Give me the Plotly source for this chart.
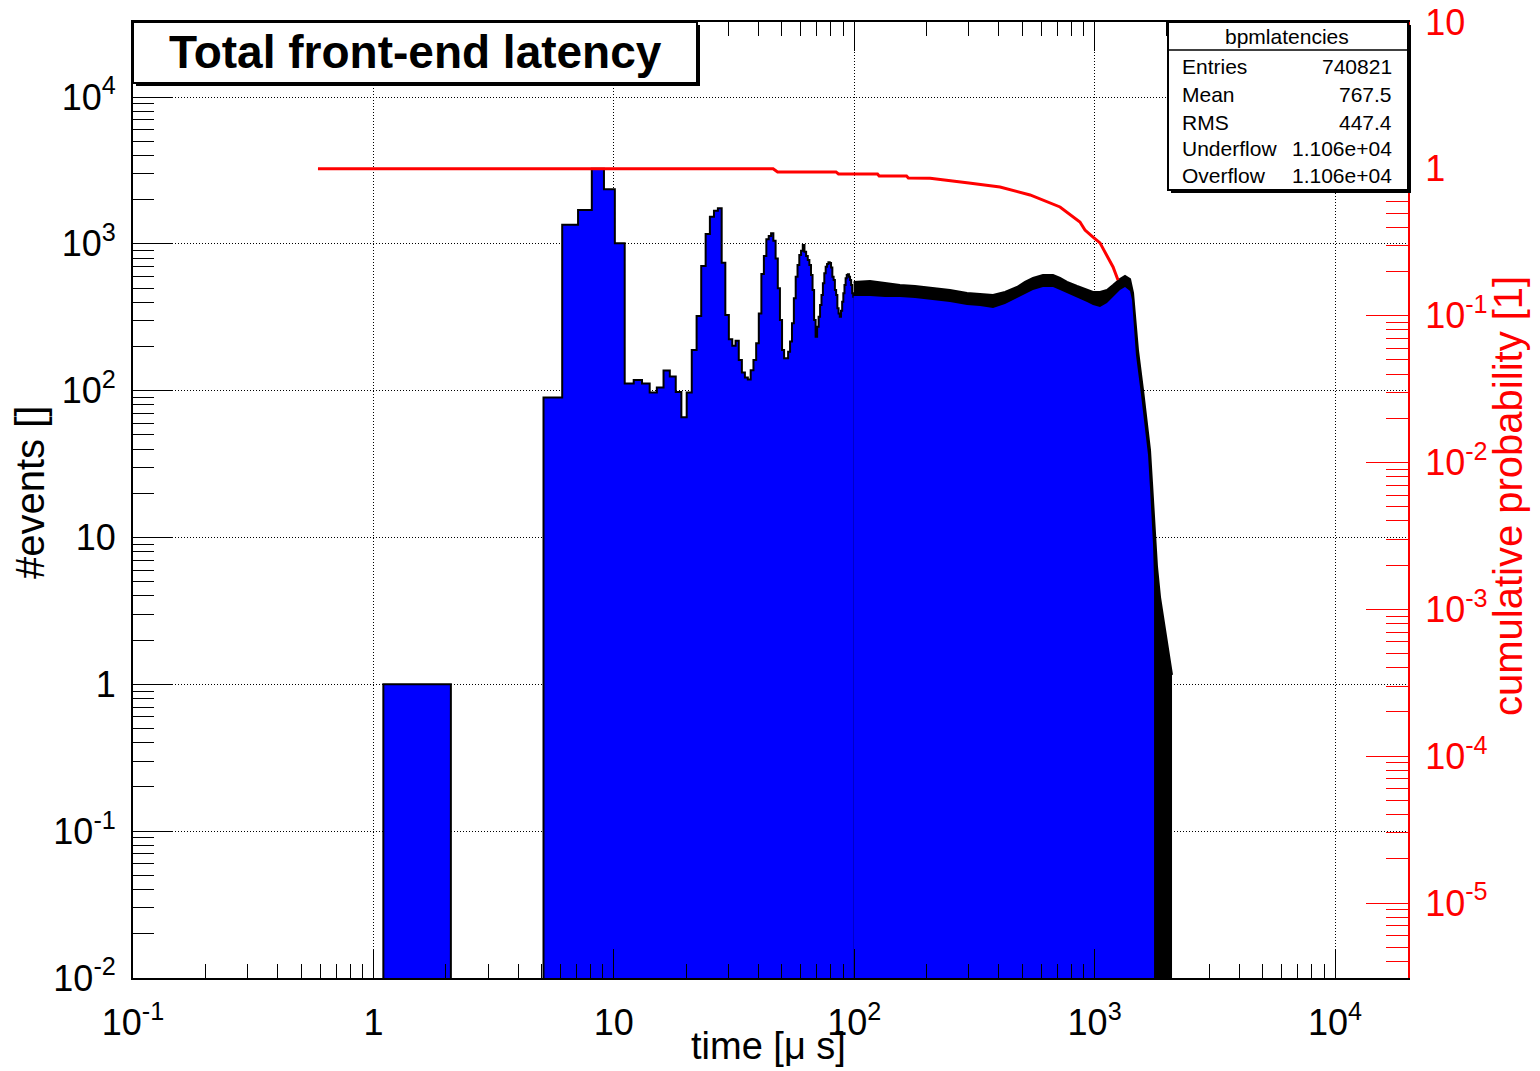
import plotly.graph_objects as go

# ---------------- data ----------------
# 1-us wide histogram bins starting at 0.1 us (low-latency part, resolved bin by bin)
bin_first_edge_us = 0.1
bin_width_us = 1.0
bin_counts = [0, 1, 0, 0, 0, 90, 1350, 1700, 3250, 2350, 1010,
              112, 118, 112, 97, 105, 137, 125, 98, 66, 97,
              189, 322, 706, 1166, 1530, 1683, 1746, 744, 327, 224,
              202, 219, 162, 133, 123, 119, 138, 162, 210, 336,
              624, 827, 1074, 1130, 1180, 1050, 796, 498, 303, 189,
              166, 166, 184, 216, 288, 426, 597, 718, 840, 898,
              982, 883, 826, 776, 718, 614, 485, 303, 233, 273,
              319, 383, 448, 538, 630, 699, 730, 750, 740, 691,
              597, 568, 485, 448, 364, 336, 319, 350, 404, 460,
              524, 582, 614, 620, 597, 568, 524, 460, 436]

# dense part (>100 us): upper edge of the noisy bin outline
env_hi_us = [99.5, 116.3, 134.3, 155.0, 179.0, 212.7, 250.2, 294.6, 333.7, 378.0,
             424.0, 475.6, 513.4, 554.2, 610.0, 671.4, 718.0, 767.9, 845.2, 930.0,
             984.7, 1053, 1126, 1193, 1275, 1338, 1404, 1445, 1473, 1515,
             1590, 1652, 1700, 1733, 1784, 1818, 1871, 1925, 2001, 2099]
env_hi_counts = [550, 558, 541, 524, 516, 500, 485, 463, 455, 448,
                 470, 508, 550, 585, 613, 613, 585, 550, 516, 485,
                 470, 470, 485, 524, 576, 604, 576, 463, 318, 189,
                 101, 60.2, 39.4, 23.5, 10.1, 6.3, 3.93, 2.87, 1.91, 1.16]

# dense part (>100 us): lower edge of the noisy outline (top of the blue fill)
env_lo_us = [99.5, 116.3, 134.3, 155.0, 179.0, 212.7, 250.2, 294.6, 333.7, 378.0,
             424.0, 475.6, 513.4, 554.2, 610.0, 671.4, 718.0, 767.9, 845.2, 930.0,
             984.7, 1053, 1126, 1193, 1275, 1338, 1404, 1431, 1451, 1486,
             1560, 1621, 1668, 1700, 1750, 1767]
env_lo_counts = [441, 441, 435, 435, 428, 414, 402, 383, 377, 366,
                 389, 428, 455, 485, 508, 508, 485, 463, 428, 402,
                 383, 371, 395, 435, 485, 508, 477, 414, 294, 175,
                 93.4, 55.7, 36.5, 21.7, 8.89, 5.13]

# cumulative probability curve (right axis)
cum_us = [0.588, 46, 48, 84, 86, 125, 127, 165, 168, 207, 300, 404, 539, 718,
          869, 912, 985, 1053, 1193, 1251]
cum_prob = [1.0, 1.0, 0.952, 0.952, 0.922, 0.922, 0.894, 0.894, 0.866, 0.864,
            0.80, 0.752, 0.664, 0.55, 0.434, 0.383, 0.343, 0.313, 0.2145, 0.175]

# tick labels
x_tickvals = [0.1, 1, 10, 100, 1000, 10000]
x_ticktext = ['10<sup>-1</sup>', '1', '10', '10<sup>2</sup>', '10<sup>3</sup>', '10<sup>4</sup>']
y_tickvals = [0.01, 0.1, 1, 10, 100, 1000, 10000]
y_ticktext = ['10<sup>-2</sup>', '10<sup>-1</sup>', '1', '10', '10<sup>2</sup>', '10<sup>3</sup>', '10<sup>4</sup>']
y2_tickvals = [1e-5, 1e-4, 1e-3, 1e-2, 1e-1, 1, 10]
y2_ticktext = ['10<sup>-5</sup>', '10<sup>-4</sup>', '10<sup>-3</sup>', '10<sup>-2</sup>', '10<sup>-1</sup>', '1', '10']

stats_title = 'bpmlatencies'
stats_names = ['Entries', 'Mean', 'RMS', 'Underflow', 'Overflow']
stats_values = ['740821', '767.5', '447.4', '1.106e+04', '1.106e+04']

title_text = 'Total front-end latency'
x_title = 'time [μ s]'
y_title = '#events []'
y2_title = 'cumulative probability [1]'

# ---------------- layout helpers ----------------
W, H = 1540, 1071
L, R, T, B = 133, 1408, 22, 978
FONT = 'Liberation Sans, Arial, Helvetica, sans-serif'


def xp(X):
    return (X - L) / (R - L)


def yp(Y):
    return (B - Y) / (B - T)


def minor_vals(lo_dec, hi_dec):
    return [k * 10.0 ** d for d in range(lo_dec, hi_dec + 1) for k in range(2, 10)]


bin_edges = [bin_first_edge_us + i * bin_width_us for i in range(len(bin_counts) + 1)]
bin_steps = bin_counts + [bin_counts[-1]]

fig = go.Figure()

fig.add_trace(go.Scatter(
    x=bin_edges, y=bin_steps, mode='lines', line=dict(shape='hv', color='black', width=2),
    fill='tozeroy', fillcolor='#0000ff', hoverinfo='skip'))

fig.add_trace(go.Scatter(
    x=env_hi_us, y=env_hi_counts, mode='lines', line=dict(color='black', width=2),
    fill='tozeroy', fillcolor='black', hoverinfo='skip'))

fig.add_trace(go.Scatter(
    x=env_lo_us, y=env_lo_counts, mode='lines', line=dict(color='#0000ff', width=0),
    fill='tozeroy', fillcolor='#0000ff', hoverinfo='skip'))

fig.add_trace(go.Scatter(
    x=cum_us, y=cum_prob, yaxis='y2', mode='lines', line=dict(color='#ff0000', width=3),
    hoverinfo='skip'))

grid_dash = '1px,2px'

fig.update_layout(
    width=W, height=H,
    margin=dict(l=L, r=W - R, t=T, b=H - B, autoexpand=False),
    paper_bgcolor='white', plot_bgcolor='white',
    showlegend=False,
    font=dict(family=FONT, color='black'),
    xaxis=dict(
        type='log', range=[-1, 4.3036], automargin=False,
        tickvals=x_tickvals, ticktext=x_ticktext,
        ticks='inside', ticklen=29, tickwidth=1, tickcolor='black',
        showline=True, linecolor='black', linewidth=2, mirror='ticks',
        showgrid=True, gridcolor='black', gridwidth=1, griddash=grid_dash,
        zeroline=False,
        tickfont=dict(size=36, family=FONT, color='black'),
        ticklabelstandoff=12,
        minor=dict(tickvals=minor_vals(-1, 4), ticks='inside', ticklen=14,
                   tickcolor='black', tickwidth=1, showgrid=False),
    ),
    yaxis=dict(
        type='log', range=[-2, 4.5108], automargin=False,
        tickvals=y_tickvals, ticktext=y_ticktext,
        ticks='inside', ticklen=40, tickwidth=1, tickcolor='black',
        showline=True, linecolor='black', linewidth=2, mirror=False,
        showgrid=True, gridcolor='black', gridwidth=1, griddash=grid_dash,
        zeroline=False,
        tickfont=dict(size=36, family=FONT, color='black'),
        ticklabelstandoff=8,
        minor=dict(tickvals=minor_vals(-2, 4), ticks='inside', ticklen=21,
                   tickcolor='black', tickwidth=1, showgrid=False),
    ),
    yaxis2=dict(
        type='log', range=[-5.5108, 1], overlaying='y', side='right', anchor='x',
        automargin=False,
        tickvals=y2_tickvals, ticktext=y2_ticktext,
        ticks='inside', ticklen=42, tickwidth=1, tickcolor='#ff0000',
        showline=True, linecolor='#ff0000', linewidth=2,
        showgrid=False, zeroline=False,
        tickfont=dict(size=36, family=FONT, color='#ff0000'),
        ticklabelstandoff=8,
        minor=dict(tickvals=minor_vals(-6, 1), ticks='inside', ticklen=22,
                   tickcolor='#ff0000', tickwidth=1, showgrid=False),
    ),
)

shapes = [
    # title box with shadow
    dict(type='rect', xref='paper', yref='paper', x0=xp(136), x1=xp(700), y0=yp(86), y1=yp(25),
         fillcolor='black', line=dict(width=0), layer='above'),
    dict(type='rect', xref='paper', yref='paper', x0=xp(133), x1=xp(697), y0=yp(83), y1=yp(22),
         fillcolor='white', line=dict(color='black', width=2), layer='above'),
    # stats box with shadow
    dict(type='rect', xref='paper', yref='paper', x0=xp(1171), x1=xp(1411), y0=yp(193), y1=yp(25),
         fillcolor='black', line=dict(width=0), layer='above'),
    dict(type='rect', xref='paper', yref='paper', x0=xp(1168), x1=xp(1408), y0=yp(190), y1=yp(22),
         fillcolor='white', line=dict(color='black', width=2), layer='above'),
    dict(type='line', xref='paper', yref='paper', x0=xp(1168), x1=xp(1408), y0=yp(50), y1=yp(50),
         line=dict(color='black', width=1.5), layer='above'),
]

annotations = [
    dict(text='<b>' + title_text + '</b>', xref='paper', yref='paper', x=xp(415), y=yp(52),
         xanchor='center', yanchor='middle', showarrow=False,
         font=dict(size=46, family=FONT, color='black')),
    dict(text=stats_title, xref='paper', yref='paper', x=xp(1287), y=yp(36.5),
         xanchor='center', yanchor='middle', showarrow=False,
         font=dict(size=21, family=FONT, color='black')),
    dict(text=x_title, xref='paper', yref='paper', x=xp(768), y=yp(1046),
         xanchor='center', yanchor='middle', showarrow=False,
         font=dict(size=38, family=FONT, color='black')),
    dict(text=y_title, xref='paper', yref='paper', x=xp(30), y=yp(493), textangle=-90,
         xanchor='center', yanchor='middle', showarrow=False,
         font=dict(size=40, family=FONT, color='black')),
    dict(text=y2_title, xref='paper', yref='paper', x=xp(1508), y=yp(496), textangle=-90,
         xanchor='center', yanchor='middle', showarrow=False,
         font=dict(size=40, family=FONT, color='#ff0000')),
]

row_y = [66.5, 95, 123, 148.5, 175.5]
for name, val, ry in zip(stats_names, stats_values, row_y):
    annotations.append(dict(text=name, xref='paper', yref='paper', x=xp(1180), y=yp(ry),
                            xanchor='left', yanchor='middle', showarrow=False,
                            font=dict(size=21, family=FONT, color='black')))
    annotations.append(dict(text=val, xref='paper', yref='paper', x=xp(1394), y=yp(ry),
                            xanchor='right', yanchor='middle', showarrow=False,
                            font=dict(size=21, family=FONT, color='black')))

fig.update_layout(shapes=shapes, annotations=annotations)

fig.write_html('out.html')
